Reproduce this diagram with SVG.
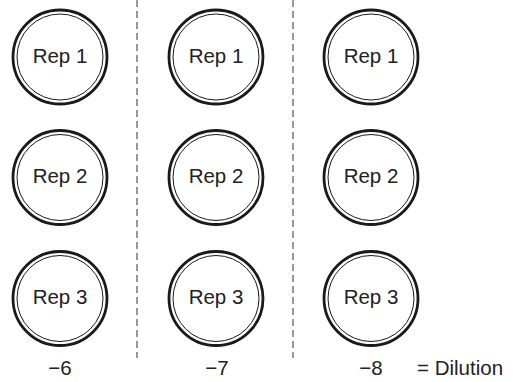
<svg xmlns="http://www.w3.org/2000/svg" width="516" height="382" viewBox="0 0 516 382">
<defs>
<style>
.outer{fill:#fff;stroke:#1a1a1a;stroke-width:2.8}
.inner{fill:none;stroke:#1a1a1a;stroke-width:1}
.lbl{font-family:"Liberation Sans",Arial,sans-serif;font-size:20.5px;fill:#222;text-anchor:middle}
.div{stroke:#555;stroke-width:1.2;stroke-dasharray:7 4;fill:none}
</style>
<g id="rep"><circle class="outer" r="47"/><circle class="inner" r="43"/></g>
</defs>
<rect width="516" height="382" fill="#fff"/>
<g id="connectors">
<line class="div" x1="137" y1="0" x2="137" y2="358"/>
<line class="div" x1="293" y1="0" x2="293" y2="358"/>
</g>
<g id="c1r1"><use href="#rep" x="60" y="57"/><text class="lbl" x="60" y="62.5">Rep 1</text></g>
<g id="c1r2"><use href="#rep" x="60" y="177.5"/><text class="lbl" x="60" y="183">Rep 2</text></g>
<g id="c1r3"><use href="#rep" x="60" y="298.5"/><text class="lbl" x="60" y="304">Rep 3</text></g>
<g id="c2r1"><use href="#rep" x="216" y="57"/><text class="lbl" x="216" y="62.5">Rep 1</text></g>
<g id="c2r2"><use href="#rep" x="216" y="177.5"/><text class="lbl" x="216" y="183">Rep 2</text></g>
<g id="c2r3"><use href="#rep" x="216" y="298.5"/><text class="lbl" x="216" y="304">Rep 3</text></g>
<g id="c3r1"><use href="#rep" x="371" y="57"/><text class="lbl" x="371" y="62.5">Rep 1</text></g>
<g id="c3r2"><use href="#rep" x="371" y="177.5"/><text class="lbl" x="371" y="183">Rep 2</text></g>
<g id="c3r3"><use href="#rep" x="371" y="298.5"/><text class="lbl" x="371" y="304">Rep 3</text></g>
<g id="labels">
<text class="lbl" x="60" y="375">−6</text>
<text class="lbl" x="217" y="375">−7</text>
<text class="lbl" x="371" y="375">−8</text>
<text class="lbl" x="417" y="375" style="text-anchor:start">= Dilution</text>
</g>
</svg>
